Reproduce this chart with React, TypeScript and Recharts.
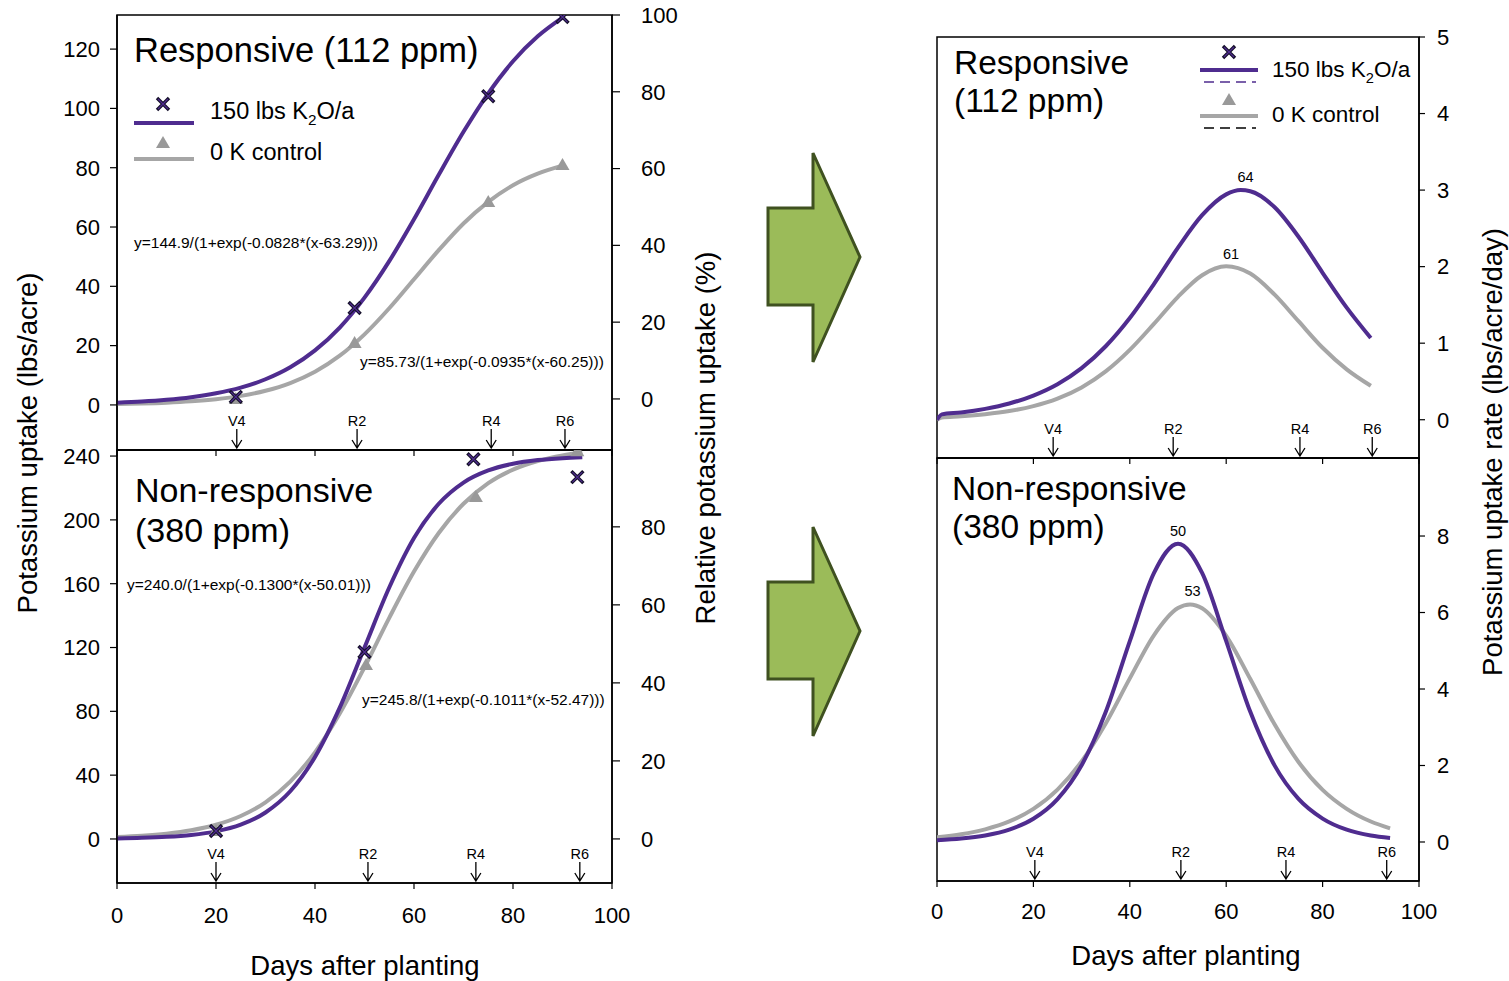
import React from 'react';
import { ComposedChart, Line, Scatter, XAxis, YAxis, ReferenceArea, ReferenceDot } from 'recharts';

const FONT = '"Liberation Sans", Arial, Helvetica, sans-serif';
const PURPLE = '#4F2C8F';
const GRAY = '#A6A6A6';

// cumulative uptake (lbs/acre), responsive site
const cumDays = [0, 5, 10, 15, 20, 25, 30, 35, 40, 45, 50, 55, 60, 65, 70, 75, 80, 85, 90];
const respK = [0.76, 1.15, 1.74, 2.61, 3.92, 5.84, 8.66, 12.7, 18.4, 26.1, 36.2, 48.5, 62.6, 77.6, 92.1, 105.1, 115.9, 124.3, 130.6];
const respCtrl = [0.31, 0.49, 0.77, 1.23, 1.94, 3.06, 4.78, 7.39, 11.2, 16.6, 23.8, 32.6, 42.4, 52.2, 61.2, 68.5, 74.1, 78.0, 80.7];

// cumulative uptake, non-responsive site
const cumDaysNon = [0, 5, 10, 15, 20, 25, 30, 35, 40, 45, 50, 55, 60, 65, 70, 75, 80, 85, 90, 94];
const nonK = [0.36, 0.69, 1.32, 2.51, 4.76, 8.95, 16.6, 29.9, 51.4, 82.3, 120.0, 157.6, 188.6, 210.1, 223.4, 231.0, 235.2, 237.5, 238.7, 239.2];
const nonCtrl = [1.22, 2.01, 3.32, 5.44, 8.89, 14.4, 23.0, 35.9, 54.3, 78.6, 107.6, 138.6, 167.6, 191.8, 210.1, 223.0, 231.5, 236.9, 240.4, 242.2];

// observed samples
const respKObsDays = [24, 48, 75, 90];
const respKObs = [2.7, 32.7, 104.1, 130.8];
const respCtrlObsDays = [24, 48, 75, 90];
const respCtrlObs = [2.0, 20.9, 68.4, 80.9];
const nonKObsDays = [20, 50, 72, 93];
const nonKObs = [5.0, 117.2, 238.0, 226.8];
const nonCtrlObsDays = [20, 50.3, 72.5, 93];
const nonCtrlObs = [5.0, 109.0, 214.3, 243.0];

// uptake rate (lbs/acre/day)
const rateDaysRespK = [0, 1, 5, 10, 15, 20, 25, 30, 35, 40, 45, 50, 55, 60, 63, 65, 70, 75, 80, 85, 90];
const rateRespK = [0, 0.07, 0.095, 0.142, 0.212, 0.316, 0.464, 0.674, 0.96, 1.329, 1.772, 2.248, 2.672, 2.944, 3.0, 2.985, 2.779, 2.391, 1.92, 1.464, 1.067];
const rateDaysRespCtrl = [0, 1, 5, 10, 15, 20, 25, 30, 35, 40, 45, 50, 55, 60, 65, 70, 75, 80, 85, 90];
const rateRespCtrl = [0, 0.03, 0.045, 0.072, 0.113, 0.178, 0.276, 0.422, 0.631, 0.912, 1.252, 1.606, 1.888, 2.004, 1.909, 1.637, 1.287, 0.94, 0.658, 0.443];
const rateDaysNonK = [0, 5, 10, 15, 20, 25, 30, 35, 40, 45, 50, 55, 60, 65, 70, 75, 80, 85, 90, 94];
const rateNonK = [0.047, 0.089, 0.17, 0.323, 0.606, 1.12, 2.005, 3.398, 5.251, 7.03, 7.8, 7.034, 5.252, 3.403, 2.009, 1.126, 0.612, 0.321, 0.168, 0.104];
const rateDaysNonCtrl = [0, 5, 10, 15, 20, 25, 30, 35, 40, 45, 50, 52.5, 55, 60, 65, 70, 75, 80, 85, 90, 94];
const rateNonCtrl = [0.122, 0.201, 0.331, 0.538, 0.866, 1.371, 2.105, 3.099, 4.277, 5.405, 6.116, 6.21, 6.11, 5.39, 4.26, 3.084, 2.092, 1.362, 0.867, 0.535, 0.358];

// peak day labels
const peakDaysResp = [64, 61];
const peakRateResp = [3.0, 2.0];
const peakDaysNon = [50, 53];
const peakRateNon = [7.8, 6.21];

// growth stages
const stageNames = ['V4', 'R2', 'R4', 'R6'];
const stagesRespLeft = [24.2, 48.5, 75.6, 90.5];
const stagesNonLeft = [20.0, 50.7, 72.5, 93.5];
const stagesRespRight = [24.1, 49.0, 75.3, 90.3];
const stagesNonRight = [20.3, 50.6, 72.4, 93.3];

const xTicks = [0, 20, 40, 60, 80, 100];

const pts = (xs: number[], ys: number[]) => xs.map((x, i) => ({ x, y: ys[i] }));

const XMark = (p: any) => (
  <g>
    <path d={`M${p.cx - 6},${p.cy - 6}L${p.cx + 6},${p.cy + 6}M${p.cx - 6},${p.cy + 6}L${p.cx + 6},${p.cy - 6}`} stroke="#15102a" strokeWidth={3.4} />
    <path d={`M${p.cx - 5},${p.cy - 5}L${p.cx + 5},${p.cy + 5}M${p.cx - 5},${p.cy + 5}L${p.cx + 5},${p.cy - 5}`} stroke={PURPLE} strokeWidth={1.2} />
  </g>
);

const TriMark = (p: any) => (
  <path d={`M${p.cx},${p.cy - 7}L${p.cx + 7},${p.cy + 5}L${p.cx - 7},${p.cy + 5}Z`} fill="#999999" />
);

const stageShape = (name: string) => (p: any) => (
  <g>
    <text x={p.cx} y={p.cy - 24} textAnchor="middle" fontSize={14.5} fill="#000">{name}</text>
    <path d={`M${p.cx},${p.cy - 21}V${p.cy - 2}M${p.cx - 5},${p.cy - 10}L${p.cx},${p.cy - 2}L${p.cx + 5},${p.cy - 10}`} stroke="#000" strokeWidth={1.3} fill="none" />
  </g>
);

const peakShape = (label: string) => (p: any) => (
  <text x={p.cx} y={p.cy - 8} textAnchor="middle" fontSize={14.5} fill="#000">{label}</text>
);

const tickStyle = { fontSize: 22, fill: '#000' };
const axisLine = { stroke: '#000', strokeWidth: 1.5 };
const tickLine = { stroke: '#000', strokeWidth: 1.2 };

const CumPanel = (props: any) => {
  const { top, height, mTop, mBottom, xHeight, showX, lDomain, lTicks, rDomain, rTicks, kLine, cLine, kObs, cObs, stages } = props;
  return (
    <div style={{ position: 'absolute', left: 0, top }}>
      <ComposedChart width={760} height={height} margin={{ top: mTop, right: 68, bottom: mBottom, left: 57 }}>
        <XAxis type="number" dataKey="x" domain={[0, 100]} ticks={xTicks} allowDataOverflow height={xHeight}
          tickFormatter={showX ? undefined : () => ''} tick={tickStyle} tickSize={6} tickMargin={18}
          axisLine={axisLine} tickLine={tickLine} />
        <YAxis yAxisId="l" type="number" domain={lDomain} ticks={lTicks} allowDataOverflow width={60}
          tick={tickStyle} tickSize={7} tickMargin={10} axisLine={axisLine} tickLine={tickLine} />
        <YAxis yAxisId="r" orientation="right" type="number" domain={rDomain} ticks={rTicks} allowDataOverflow width={80}
          tick={tickStyle} tickSize={8} tickMargin={21} axisLine={axisLine} tickLine={tickLine} />
        <ReferenceArea yAxisId="l" x1={0} x2={100} y1={lDomain[0]} y2={lDomain[1]} fill="none" stroke="#000" strokeWidth={1.5} ifOverflow="visible" />
        <Line yAxisId="l" data={cLine} dataKey="y" type="monotone" stroke={GRAY} strokeWidth={4} dot={false} isAnimationActive={false} />
        <Line yAxisId="l" data={kLine} dataKey="y" type="monotone" stroke={PURPLE} strokeWidth={4} dot={false} isAnimationActive={false} />
        <Scatter yAxisId="l" data={cObs} dataKey="y" shape={TriMark} isAnimationActive={false} />
        <Scatter yAxisId="l" data={kObs} dataKey="y" shape={XMark} isAnimationActive={false} />
        {stages.map((s: number, i: number) => (
          <ReferenceDot key={i} yAxisId="l" x={s} y={lDomain[0]} r={0} ifOverflow="visible" shape={stageShape(stageNames[i])} />
        ))}
      </ComposedChart>
    </div>
  );
};

const RatePanel = (props: any) => {
  const { top, height, mTop, mBottom, xHeight, showX, domain, ticks, kLine, cLine, stages, peakDays, peakRates } = props;
  return (
    <div style={{ position: 'absolute', left: 860, top }}>
      <ComposedChart width={649} height={height} margin={{ top: mTop, right: 30, bottom: mBottom, left: 77 }}>
        <XAxis type="number" dataKey="x" domain={[0, 100]} ticks={xTicks} allowDataOverflow height={xHeight}
          tickFormatter={showX ? undefined : () => ''} tick={tickStyle} tickSize={6} tickMargin={16}
          axisLine={axisLine} tickLine={tickLine} />
        <YAxis yAxisId="r" orientation="right" type="number" domain={domain} ticks={ticks} allowDataOverflow width={60}
          tick={tickStyle} tickSize={6} tickMargin={12} axisLine={axisLine} tickLine={tickLine} />
        <ReferenceArea yAxisId="r" x1={0} x2={100} y1={domain[0]} y2={domain[1]} fill="none" stroke="#000" strokeWidth={1.5} ifOverflow="visible" />
        <Line yAxisId="r" data={cLine} dataKey="y" type="monotone" stroke={GRAY} strokeWidth={4} dot={false} isAnimationActive={false} />
        <Line yAxisId="r" data={kLine} dataKey="y" type="monotone" stroke={PURPLE} strokeWidth={4} dot={false} isAnimationActive={false} />
        {peakDays.map((d: number, i: number) => (
          <ReferenceDot key={'p' + i} yAxisId="r" x={d} y={peakRates[i]} r={0} ifOverflow="visible" shape={peakShape(String(d))} />
        ))}
        {stages.map((s: number, i: number) => (
          <ReferenceDot key={i} yAxisId="r" x={s} y={domain[0]} r={0} ifOverflow="visible" shape={stageShape(stageNames[i])} />
        ))}
      </ComposedChart>
    </div>
  );
};

const K2O = ({ x, y, size }: { x: number; y: number; size: number }) => (
  <text x={x} y={y} fontSize={size} fill="#000">
    150 lbs K<tspan dy={6} fontSize={size * 0.65}>2</tspan><tspan dy={-6}>O/a</tspan>
  </text>
);

const Overlay = () => (
  <svg width={1509} height={981} style={{ position: 'absolute', left: 0, top: 0, pointerEvents: 'none' }}>
    {/* arrows */}
    <polygon points="768,208 813,208 813,153 860,257 813,362 813,305 768,305" fill="#9BBB59" stroke="#3F5120" strokeWidth={3} />
    <polygon points="768,582 813,582 813,527 860,631 813,736 813,679 768,679" fill="#9BBB59" stroke="#3F5120" strokeWidth={3} />

    {/* axis titles */}
    <text transform="translate(27,443) rotate(-90)" textAnchor="middle" dominantBaseline="central" fontSize={27.5}>Potassium uptake (lbs/acre)</text>
    <text transform="translate(705,438) rotate(-90)" textAnchor="middle" dominantBaseline="central" fontSize={27.5}>Relative potassium uptake (%)</text>
    <text transform="translate(1492,452) rotate(-90)" textAnchor="middle" dominantBaseline="central" fontSize={27.5}>Potassium uptake rate (lbs/acre/day)</text>
    <text x={365} y={975} textAnchor="middle" fontSize={27.5}>Days after planting</text>
    <text x={1186} y={965} textAnchor="middle" fontSize={27.5}>Days after planting</text>

    {/* panel titles */}
    <text x={134} y={62} fontSize={34.5}>Responsive (112 ppm)</text>
    <text x={135} y={502} fontSize={34}>Non-responsive</text>
    <text x={135} y={542} fontSize={34}>(380 ppm)</text>
    <text x={954} y={74} fontSize={33.5}>Responsive</text>
    <text x={954} y={112} fontSize={33.5}>(112 ppm)</text>
    <text x={952} y={500} fontSize={33.5}>Non-responsive</text>
    <text x={952} y={538} fontSize={33.5}>(380 ppm)</text>

    {/* equations */}
    <text x={134} y={248} fontSize={15.5}>y=144.9/(1+exp(-0.0828*(x-63.29)))</text>
    <text x={360} y={367} fontSize={15.5}>y=85.73/(1+exp(-0.0935*(x-60.25)))</text>
    <text x={127} y={590} fontSize={15.5}>y=240.0/(1+exp(-0.1300*(x-50.01)))</text>
    <text x={362} y={705} fontSize={15.5}>y=245.8/(1+exp(-0.1011*(x-52.47)))</text>

    {/* left legend */}
    <XMark cx={163} cy={104} />
    <line x1={134} y1={123} x2={194} y2={123} stroke={PURPLE} strokeWidth={4} />
    <K2O x={210} y={119} size={23.5} />
    <TriMark cx={163} cy={143} />
    <line x1={134} y1={159} x2={194} y2={159} stroke={GRAY} strokeWidth={4} />
    <text x={210} y={160} fontSize={23.5}>0 K control</text>

    {/* right legend */}
    <XMark cx={1229} cy={52} />
    <line x1={1200} y1={70} x2={1258} y2={70} stroke={PURPLE} strokeWidth={4} />
    <line x1={1204} y1={82} x2={1256} y2={82} stroke={PURPLE} strokeWidth={1.5} strokeDasharray="10 6" />
    <K2O x={1272} y={77} size={22.5} />
    <TriMark cx={1229} cy={100} />
    <line x1={1200} y1={116} x2={1258} y2={116} stroke={GRAY} strokeWidth={4} />
    <line x1={1204} y1={128} x2={1256} y2={128} stroke="#000" strokeWidth={1.5} strokeDasharray="10 6" />
    <text x={1272} y={122} fontSize={22.5}>0 K control</text>
  </svg>
);

export default function App() {
  return (
    <div style={{ position: 'absolute', left: 0, top: 0, width: 1509, height: 981, background: '#fff', fontFamily: FONT }}>
      <CumPanel top={0} height={460} mTop={15} mBottom={0} xHeight={10} showX={false}
        lDomain={[-15.2, 131.5]} lTicks={[0, 20, 40, 60, 80, 100, 120]}
        rDomain={[-13.3, 100]} rTicks={[0, 20, 40, 60, 80, 100]}
        kLine={pts(cumDays, respK)} cLine={pts(cumDays, respCtrl)}
        kObs={pts(respKObsDays, respKObs)} cObs={pts(respCtrlObsDays, respCtrlObs)}
        stages={stagesRespLeft} />
      <CumPanel top={440} height={541} mTop={10} mBottom={38} xHeight={60} showX={true}
        lDomain={[-27.6, 243.8]} lTicks={[0, 40, 80, 120, 160, 200, 240]}
        rDomain={[-11.3, 99.7]} rTicks={[0, 20, 40, 60, 80]}
        kLine={pts(cumDaysNon, nonK)} cLine={pts(cumDaysNon, nonCtrl)}
        kObs={pts(nonKObsDays, nonKObs)} cObs={pts(nonCtrlObsDays, nonCtrlObs)}
        stages={stagesNonLeft} />
      <RatePanel top={0} height={470} mTop={37} mBottom={0} xHeight={12} showX={false}
        domain={[-0.5, 5]} ticks={[0, 1, 2, 3, 4, 5]}
        kLine={pts(rateDaysRespK, rateRespK)} cLine={pts(rateDaysRespCtrl, rateRespCtrl)}
        stages={stagesRespRight} peakDays={peakDaysResp} peakRates={peakRateResp} />
      <RatePanel top={448} height={533} mTop={10} mBottom={40} xHeight={60} showX={true}
        domain={[-1.02, 10.04]} ticks={[0, 2, 4, 6, 8]}
        kLine={pts(rateDaysNonK, rateNonK)} cLine={pts(rateDaysNonCtrl, rateNonCtrl)}
        stages={stagesNonRight} peakDays={peakDaysNon} peakRates={peakRateNon} />
      <Overlay />
    </div>
  );
}
